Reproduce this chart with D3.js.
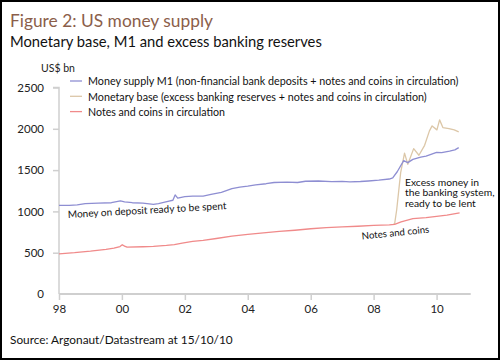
<!DOCTYPE html>
<html><head><meta charset="utf-8">
<script src="https://cdn.jsdelivr.net/npm/d3@7"></script>
<style>body{margin:0;background:#fff}svg{display:block}text{font-family:Lato,"Open Sans",sans-serif}</style>
</head><body><svg id="c" width="500" height="360"></svg>
<script>
const title = "Figure 2: US money supply";
const subtitle = "Monetary base, M1 and excess banking reserves";
const unitLabel = "US$ bn";
const source = "Source: Argonaut/Datastream at 15/10/10";
const seriesNames = [
  "Money supply M1 (non-financial bank deposits + notes and coins in circulation)",
  "Monetary base (excess banking reserves + notes and coins in circulation)",
  "Notes and coins in circulation"
];
const yTicks = [0, 500, 1000, 1500, 2000, 2500];
const xTickYears = ["1998", "2000", "2002", "2004", "2006", "2008", "2010"];
const xTickLabels = ["98", "00", "02", "04", "06", "08", "10"];

const m1Dates = ["1998-01-01","1998-05-01","1998-08-01","1998-11-01","1999-04-01","1999-09-01","1999-12-15","2000-02-01","2000-05-01","2000-09-01","2001-01-01","2001-03-01","2001-07-01","2001-08-15","2001-09-10","2001-10-10","2002-01-01","2002-04-01","2002-08-01","2002-11-01","2003-03-01","2003-07-01","2003-10-01","2004-01-01","2004-04-01","2004-08-01","2004-11-01","2005-04-01","2005-08-01","2005-11-01","2006-04-01","2006-09-01","2007-01-01","2007-04-01","2007-08-01","2007-11-01","2008-03-01","2008-07-01","2008-08-10","2008-10-01","2008-12-15","2009-02-01","2009-04-01","2009-07-01","2009-09-01","2010-01-01","2010-03-01","2010-06-01","2010-08-01","2010-09-15"];
const m1Values = [1074,1072,1078,1095,1100,1105,1128,1115,1105,1100,1085,1095,1125,1135,1200,1160,1178,1185,1185,1205,1230,1275,1295,1305,1322,1335,1350,1355,1350,1365,1368,1360,1363,1358,1362,1368,1378,1392,1405,1480,1615,1590,1630,1658,1670,1715,1711,1730,1745,1772];

const baseDates = ["2008-08-15","2008-09-01","2008-09-25","2008-11-10","2008-12-25","2009-02-01","2009-04-10","2009-06-10","2009-08-15","2009-10-10","2009-11-10","2010-01-05","2010-02-05","2010-03-15","2010-05-25","2010-07-25","2010-09-15"];
const baseValues = [842,850,1020,1470,1705,1570,1760,1680,1800,1975,2035,1987,2108,2015,2003,1987,1962];

const notesDates = ["1998-01-01","1998-07-01","1999-01-01","1999-07-01","1999-10-01","1999-12-10","2000-01-05","2000-02-01","2000-03-01","2000-09-01","2001-01-01","2001-06-01","2001-09-01","2001-12-01","2002-04-01","2002-08-01","2003-01-01","2003-07-01","2004-01-01","2004-07-01","2005-01-01","2005-07-01","2006-01-01","2006-07-01","2007-01-01","2007-07-01","2008-01-01","2008-07-01","2008-09-01","2008-11-15","2009-04-01","2009-09-01","2010-01-01","2010-05-01","2010-09-25"];
const notesValues = [487,500,518,540,555,575,596,580,568,572,576,588,598,615,638,650,672,700,722,740,758,772,790,803,812,820,830,836,842,872,912,925,940,955,981];

const colors = ["#8e8ed2", "#dcc7a8", "#f08a8a"];

const parse = d3.timeParse("%Y-%m-%d");
const svg = d3.select("#c");

svg.append("rect").attr("x",1).attr("y",1).attr("width",498).attr("height",358)
  .attr("fill","#fff").attr("stroke","#000").attr("stroke-width",2);

const x = d3.scaleTime().domain([parse("1998-01-01"), parse("2011-02-01")]).range([59, 470.7]);
const y = d3.scaleLinear().domain([0, 2500]).range([294, 87.5]);

// shrink font size so a text's width matches the reference width
function fit(sel, w){
  const fs = +sel.attr("font-size");
  const nat = sel.node().getComputedTextLength();
  if (nat > 0) sel.attr("font-size", Math.min(fs * 1.08, fs * w / nat).toFixed(2));
  return sel;
}

// titles
fit(svg.append("text").attr("x",10).attr("y",27).attr("font-size",19.5).attr("fill","#8b5e4a").text(title), 203);
fit(svg.append("text").attr("x",10).attr("y",47).attr("font-size",14).attr("fill","#111").text(subtitle), 312);
svg.append("text").attr("x",41).attr("y",72).attr("font-size",10.5).attr("fill","#222").text(unitLabel);

// y axis
const yAxis = d3.axisLeft(y).tickValues(yTicks).tickSize(6).tickPadding(9).tickFormat(d3.format("d"));
const gy = svg.append("g").attr("transform","translate(59,0)").call(yAxis);
gy.select(".domain").attr("stroke","#cfcfcf").attr("stroke-width",1.5).attr("d", `M-6,${y(2500)}H0V${y(0)}`);
gy.selectAll(".tick line").attr("stroke","#cfcfcf").attr("stroke-width",1.5);
gy.selectAll(".tick text").attr("font-size",11.5).attr("fill","#222").attr("font-family","Lato");
gy.selectAll(".tick").filter(d => d === 0).select("line").remove();

// x axis
const xAxis = d3.axisBottom(x).tickValues(xTickYears.map(s => parse(s + "-01-01")))
  .tickSize(6).tickPadding(5).tickFormat((d,i) => xTickLabels[i]);
const gx = svg.append("g").attr("transform","translate(0,294)").call(xAxis);
gx.select(".domain").attr("stroke","#cfcfcf").attr("stroke-width",2).attr("d", `M59,0H470.7`);
gx.selectAll(".tick line").attr("stroke","#cfcfcf").attr("stroke-width",1.5);
gx.selectAll(".tick text").attr("font-size",11.5).attr("fill","#222").attr("font-family","Lato");

// lines
const line = d3.line().x(d => x(d[0])).y(d => y(d[1]));
const series = [
  {dates: baseDates, values: baseValues, color: colors[1]},
  {dates: m1Dates, values: m1Values, color: colors[0]},
  {dates: notesDates, values: notesValues, color: colors[2]}
];
series.forEach(s => {
  const pts = s.dates.map((d,i) => [parse(d), s.values[i]]);
  svg.append("path").datum(pts).attr("d", line).attr("fill","none")
    .attr("stroke", s.color).attr("stroke-width",1.3).attr("stroke-linejoin","round");
});

// legend
const legendW = [371, 339, 137];
seriesNames.forEach((n,i) => {
  const yy = 81 + i*15.3;
  svg.append("line").attr("x1",70).attr("x2",82).attr("y1",yy).attr("y2",yy)
    .attr("stroke",colors[i]).attr("stroke-width",1.3);
  fit(svg.append("text").attr("x",88).attr("y",yy+4.3).attr("font-size",12).attr("fill","#111").text(n), legendW[i]);
});

// annotations
fit(svg.append("text").attr("transform","translate(68,218) rotate(-3.2)").attr("font-size",11.5).attr("fill","#111")
  .text("Money on deposit ready to be spent"), 159);
fit(svg.append("text").attr("transform","translate(362,239.5) rotate(-5.8)").attr("font-size",11.5).attr("fill","#111")
  .text("Notes and coins"), 68);
const excess = ["Excess money in","the banking system,","ready to be lent"];
excess.forEach((t,i) => {
  svg.append("text").attr("x",405).attr("y",185.5 + i*10.8).attr("font-size",10.3).attr("fill","#111").text(t);
});

// source
fit(svg.append("text").attr("x",10).attr("y",343.5).attr("font-size",12.5).attr("fill","#111").text(source), 223);
</script>
</body></html>
